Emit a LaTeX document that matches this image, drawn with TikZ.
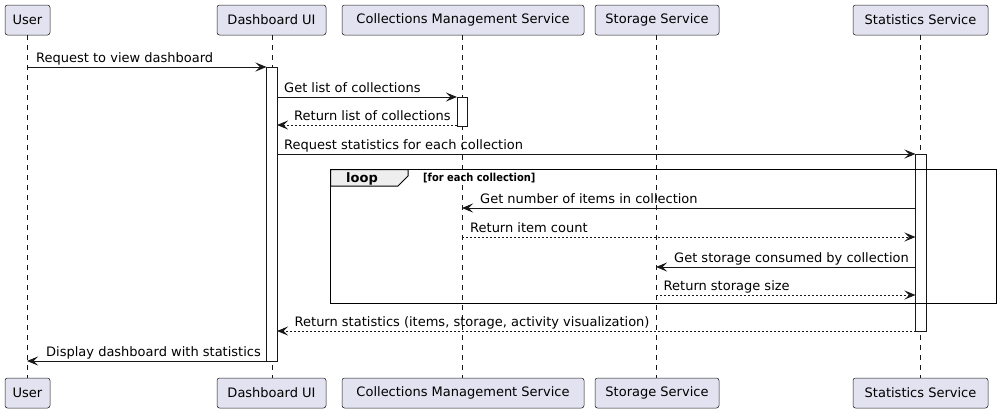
\documentclass[tikz,border=0pt]{standalone}
\usepackage{fontspec}
\setmainfont{DejaVu Sans}
\newfontfamily\condbold{DejaVu Sans Condensed Bold}
\usetikzlibrary{arrows.meta}
\definecolor{pfill}{HTML}{E2E2F0}
\definecolor{pline}{HTML}{181818}
\definecolor{tabfill}{HTML}{EEEEEE}
\tikzset{
  pbox/.style={draw=pline, fill=pfill, line width=0.5pt, rounded corners=2.5pt,
    minimum height=30pt, inner sep=0pt, font=\fontsize{13}{15}\selectfont},
  lifeline/.style={draw=pline, line width=0.5pt, dash pattern=on 5pt off 5pt},
  actbox/.style={draw=pline, fill=white, line width=1pt},
  msg/.style={draw=pline, line width=1pt, -{Stealth[length=11pt,width=9pt,inset=4.5pt]}},
  ret/.style={msg, dash pattern=on 2pt off 2pt},
  lbl/.style={anchor=base west, inner sep=0pt, font=\fontsize{13}{15}\selectfont},
}
\begin{document}
\begin{tikzpicture}[x=1pt,y=-1pt]
\useasboundingbox (0,0) rectangle (1002,413);
% participants
\node[pbox, minimum width=45pt]  (uT) at (27.5,20) {User};
\node[pbox, minimum width=109pt] (dT) at (271.5,20) {Dashboard UI};
\node[pbox, minimum width=242pt] (cT) at (463,20) {Collections Management Service};
\node[pbox, minimum width=124pt] (sT) at (657,20) {Storage Service};
\node[pbox, minimum width=135pt] (tT) at (920.5,20) {Statistics Service};
\node[pbox, minimum width=45pt]  (uB) at (27.5,393) {User};
\node[pbox, minimum width=109pt] (dB) at (271.5,393) {Dashboard UI};
\node[pbox, minimum width=242pt] (cB) at (463,393) {Collections Management Service};
\node[pbox, minimum width=124pt] (sB) at (657,393) {Storage Service};
\node[pbox, minimum width=135pt] (tB) at (920.5,393) {Statistics Service};
% lifelines
\draw[lifeline] (27,35) -- (27,378);
\draw[lifeline] (272,35) -- (272,378);
\draw[lifeline] (462,35) -- (462,378);
\draw[lifeline] (656,35) -- (656,378);
\draw[lifeline] (920,35) -- (920,378);
% activations
\draw[actbox] (266.5,67) rectangle (277,361);
\draw[actbox] (457,97) rectangle (467.5,126);
\draw[actbox] (915.5,154) rectangle (926,331.5);
% loop frame
\draw[black, line width=1.5pt] (330.5,169.5) rectangle (996.5,303.5);
\draw[black, line width=1pt, fill=tabfill] (330.5,169.5) -- (408,169.5) -- (408,176) -- (398,186) -- (330.5,186) -- cycle;
\draw[black, line width=1.5pt] (330.5,169.5) -- (996.5,169.5);
\node[anchor=base, inner sep=0pt, font=\bfseries\fontsize{13}{15}\selectfont] (looplbl) at (362,182) {loop};
\node[anchor=base west, inner sep=0pt, font=\condbold\fontsize{11}{13}\selectfont] (loopcond) at (423,181.5) {[for each collection]};
% messages
\coordinate (a1) at (27,67);   \coordinate (b1) at (266.5,67);
\coordinate (a2) at (277,97);  \coordinate (b2) at (457,97);
\coordinate (a3) at (457,125); \coordinate (b3) at (277,125);
\coordinate (a4) at (277,154); \coordinate (b4) at (915.5,154);
\coordinate (a5) at (915.5,208); \coordinate (b5) at (462,208);
\coordinate (a6) at (462,237); \coordinate (b6) at (915.5,237);
\coordinate (a7) at (915.5,267); \coordinate (b7) at (656,267);
\coordinate (a8) at (656,295); \coordinate (b8) at (915.5,295);
\coordinate (a9) at (915.5,331); \coordinate (b9) at (277,331);
\coordinate (a10) at (266.5,361); \coordinate (b10) at (27,361);
\draw[msg] (a1) -- (b1);
\draw[msg] (a2) -- (b2);
\draw[ret] (a3) -- (b3);
\draw[msg] (a4) -- (b4);
\draw[msg] (a5) -- (b5);
\draw[ret] (a6) -- (b6);
\draw[msg] (a7) -- (b7);
\draw[ret] (a8) -- (b8);
\draw[ret] (a9) -- (b9);
\draw[msg] (a10) -- (b10);
\node[lbl] (l1) at (36,62.5) {Request to view dashboard};
\node[lbl] (l2) at (284,92.5) {Get list of collections};
\node[lbl] (l3) at (294,120.5) {Return list of collections};
\node[lbl] (l4) at (284,149.5) {Request statistics for each collection};
\node[lbl] (l5) at (480,203.5) {Get number of items in collection};
\node[lbl] (l6) at (470,232.5) {Return item count};
\node[lbl] (l7) at (674,262.5) {Get storage consumed by collection};
\node[lbl] (l8) at (663.5,290.5) {Return storage size};
\node[lbl] (l9) at (294.5,326.5) {Return statistics (items, storage, activity visualization)};
\node[lbl] (l10) at (46,356.5) {Display dashboard with statistics};
\end{tikzpicture}
\end{document}
